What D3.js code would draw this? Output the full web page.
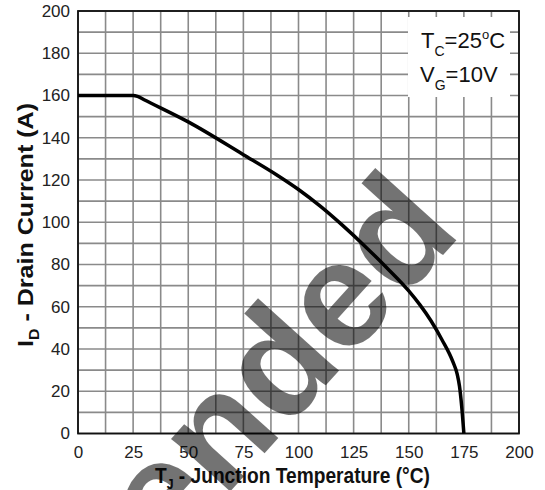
<!DOCTYPE html>
<html>
<head>
<meta charset="utf-8">
<script src="https://cdn.jsdelivr.net/npm/d3@7"></script>
<style>
  body { margin: 0; background: #fff; }
  svg { display: block; }
</style>
</head>
<body>
<div id="chart"></div>
<script>
// derating curve
var temps    = [0, 25, 27, 30, 50, 75, 90, 100, 110, 120, 130, 140, 150, 155, 160, 165, 170, 172, 173, 174, 175]
var currents = [160, 160, 159.6, 158, 147.5, 132, 122.5, 115.5, 107.5, 98.5, 88.8, 78.5, 67.5, 61, 53.5, 44.5, 34, 28, 22.5, 13, 0]

var xTicks = [0, 25, 50, 75, 100, 125, 150, 175, 200]
var yTicks = [0, 20, 40, 60, 80, 100, 120, 140, 160, 180, 200]

var width = 545
    height = 490
    margin = { top: 11, right: 26, bottom: 56.5, left: 78 }

var innerW = width - margin.left - margin.right
var innerH = height - margin.top - margin.bottom

var x = d3.scaleLinear().domain([0, 200]).range([0, innerW])
var y = d3.scaleLinear().domain([0, 200]).range([innerH, 0])

var svg = d3.select('#chart')
    .append('svg')
    .attr('width', width)
    .attr('height', height)

var g = svg.append('g')
    .attr('transform', 'translate(' + margin.left + ',' + margin.top + ')')

// grid: every 12.5 degC and every 10 A
g.append('g')
    .selectAll('line')
    .data(d3.range(0, 200.1, 12.5))
    .enter()
    .append('line')
    .attr('x1', function (d) { return x(d) })
    .attr('x2', function (d) { return x(d) })
    .attr('y1', 0)
    .attr('y2', innerH)
    .attr('stroke', '#8a8a8a')
    .attr('stroke-width', 1.6)

g.append('g')
    .selectAll('line')
    .data(d3.range(0, 200.1, 10))
    .enter()
    .append('line')
    .attr('x1', 0)
    .attr('x2', innerW)
    .attr('y1', function (d) { return y(d) })
    .attr('y2', function (d) { return y(d) })
    .attr('stroke', '#8a8a8a')
    .attr('stroke-width', 1.6)

// legend box covers the grid
g.append('rect')
    .attr('x', 330)
    .attr('y', 6)
    .attr('width', 102)
    .attr('height', 80)
    .attr('fill', '#fff')

var legend = g.append('text')
    .attr('font-family', 'Liberation Sans, Arial, sans-serif')
    .attr('font-size', 22)
    .attr('fill', '#111')
legend.append('tspan').attr('x', 343).attr('y', 37).text('T')
legend.append('tspan').attr('font-size', 14).attr('dy', 8).text('C')
legend.append('tspan').attr('dy', -8).text('=25')
legend.append('tspan').attr('font-size', 13).attr('dy', -9).text('o')
legend.append('tspan').attr('dy', 9).text('C')

var legend2 = g.append('text')
    .attr('font-family', 'Liberation Sans, Arial, sans-serif')
    .attr('font-size', 22)
    .attr('fill', '#111')
legend2.append('tspan').attr('x', 342).attr('y', 71).text('V')
legend2.append('tspan').attr('font-size', 14).attr('dy', 8).text('G')
legend2.append('tspan').attr('dy', -8).text('=10V')

// frame
g.append('rect')
    .attr('width', innerW)
    .attr('height', innerH)
    .attr('fill', 'none')
    .attr('stroke', '#111')
    .attr('stroke-width', 1.8)

// tick labels
var xAxis = d3.axisBottom(x).tickValues(xTicks).tickSize(0).tickPadding(12)
var yAxis = d3.axisLeft(y).tickValues(yTicks).tickSize(0).tickPadding(8)

var gx = g.append('g').attr('transform', 'translate(0,' + innerH + ')').call(xAxis)
var gy = g.append('g').call(yAxis)
gx.select('.domain').remove()
gy.select('.domain').remove()
svg.selectAll('.tick text')
    .attr('font-family', 'Liberation Sans, Arial, sans-serif')
    .attr('font-size', 17)
    .attr('fill', '#222')

// axis titles
var xt = svg.append('text')
    .attr('x', 155)
    .attr('y', 483)
    .attr('font-family', 'Liberation Sans Narrow, Arial Narrow, Liberation Sans, sans-serif')
    .attr('font-weight', 'bold')
    .attr('font-size', 22)
    .attr('fill', '#111')
    .attr('textLength', 275)
    .attr('lengthAdjust', 'spacingAndGlyphs')
xt.append('tspan').text('T')
xt.append('tspan').attr('font-size', 14).attr('dy', 6).text('J')
xt.append('tspan').attr('dy', -6).text(' - Junction Temperature (°C)')

var yt = svg.append('text')
    .attr('transform', 'translate(33,347) rotate(-90)')
    .attr('font-family', 'Liberation Sans Narrow, Arial Narrow, Liberation Sans, sans-serif')
    .attr('font-weight', 'bold')
    .attr('font-size', 22)
    .attr('fill', '#111')
    .attr('textLength', 244)
    .attr('lengthAdjust', 'spacingAndGlyphs')
yt.append('tspan').text('I')
yt.append('tspan').attr('font-size', 14).attr('dy', 6).text('D')
yt.append('tspan').attr('dy', -6).text(' - Drain Current (A)')

// watermark, sits over the labels like in the scan (only the tail of the word is on the page)
svg.append('text')
    .attr('transform', 'translate(463,233) rotate(-48)')
    .attr('text-anchor', 'end')
    .attr('font-family', 'Liberation Sans, Arial, sans-serif')
    .attr('font-weight', 'bold')
    .attr('font-size', 150)
    .attr('fill', '#000')
    .attr('fill-opacity', 0.55)
    .text('ended')

// the curve
var line = d3.line()
    .x(function (d) { return x(d[0]) })
    .y(function (d) { return y(d[1]) })
    .curve(d3.curveMonotoneX)

g.append('path')
    .datum(d3.zip(temps, currents))
    .attr('d', line)
    .attr('fill', 'none')
    .attr('stroke', '#000')
    .attr('stroke-width', 3.5)
</script>
</body>
</html>
